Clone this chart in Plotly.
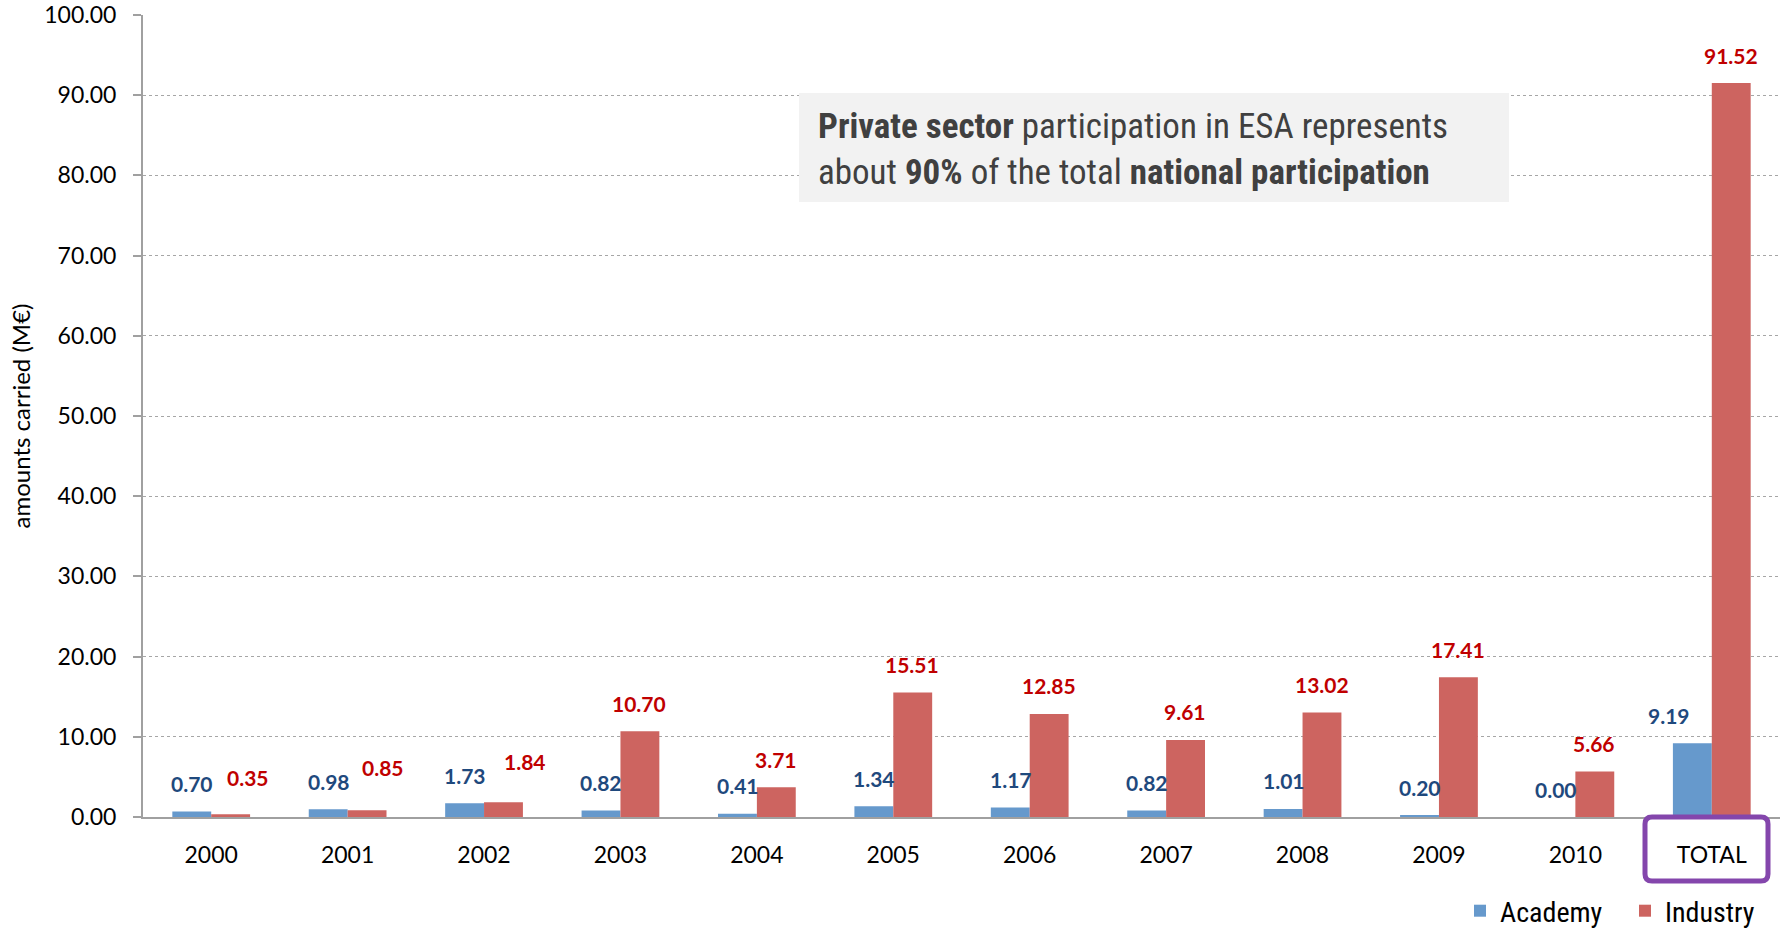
import plotly.graph_objects as go

categories = ["2000", "2001", "2002", "2003", "2004", "2005", "2006", "2007", "2008", "2009", "2010", "TOTAL"]
academy = [0.70, 0.98, 1.73, 0.82, 0.41, 1.34, 1.17, 0.82, 1.01, 0.20, 0.00, 9.19]
industry = [0.35, 0.85, 1.84, 10.70, 3.71, 15.51, 12.85, 9.61, 13.02, 17.41, 5.66, 91.52]

# label nudges (px) to mimic the reference label placement
academy_dx = [0, 0, 0, 0, 0, 0, 0, 0, 0, 0, 0, -24]
academy_dy = [0] * 12
industry_dx = [18, 16, 22, 0, 0, 0, 0, 0, 0, 0, 0, 0]
industry_dy = [9, 15, 13, 0, 0, 0, 0, 0, 0, 0, 0, 0]

BLUE = "#6699CC"
RED = "#CD6460"
NUM_FONT = "Lato, 'Open Sans', sans-serif"
NARROW = "'Liberation Sans Narrow', 'Arial Narrow', 'Roboto Condensed', 'Liberation Sans', sans-serif"

# plot-area geometry in pixels
L, R, T, B = 143, 1780, 15, 817
PW, PH = R - L, B - T


def px(xp):
    return (xp - L) / PW


def py(yp):
    return (B - yp) / PH


fig = go.Figure()
fig.add_trace(go.Bar(name="Academy", x=categories, y=academy, marker_color=BLUE,
                     marker_line_width=0, legend="legend"))
fig.add_trace(go.Bar(name="Industry", x=categories, y=industry, marker_color=RED,
                     marker_line_width=0, legend="legend2"))

annotations = []
for i, c in enumerate(categories):
    # x given as category index (numeric-looking category names would be read as indices)
    annotations.append(dict(x=i, y=academy[i], xref="x", yref="y",
                            text=f"{academy[i]:.2f}", showarrow=False,
                            xshift=-19 + academy_dx[i], yshift=28 + academy_dy[i],
                            font=dict(family=NUM_FONT, size=21, color="#1F497D", weight="bold")))
    annotations.append(dict(x=i, y=industry[i], xref="x", yref="y",
                            text=f"{industry[i]:.2f}", showarrow=False,
                            xshift=19 + industry_dx[i], yshift=28 + industry_dy[i],
                            font=dict(family=NUM_FONT, size=21, color="#C00000", weight="bold")))

annotations.append(dict(
    x=px(816), y=py(149), xref="paper", yref="paper",
    xanchor="left", yanchor="middle",
    align="left", showarrow=False,
    text="<b>Private sector</b> participation in ESA represents<br>about <b>90%</b> of the total <b>national participation</b>",
    font=dict(family=NARROW, size=35, color="#404040")))

# rounded purple frame around TOTAL label
x0, x1, y0, y1 = px(1645), px(1768), py(817), py(881)
rx, ry = 7 / PW, 7 / PH
frame_path = (f"M {x0+rx},{y0} L {x1-rx},{y0} Q {x1},{y0} {x1},{y0-ry} "
              f"L {x1},{y1+ry} Q {x1},{y1} {x1-rx},{y1} "
              f"L {x0+rx},{y1} Q {x0},{y1} {x0},{y1+ry} "
              f"L {x0},{y0-ry} Q {x0},{y0} {x0+rx},{y0} Z")

legend_style = dict(orientation="h", yanchor="middle", y=py(911), xanchor="left",
                    font=dict(family=NARROW, size=28, color="#000000"),
                    itemwidth=30, bgcolor="rgba(0,0,0,0)")

fig.update_layout(
    width=1782, height=930,
    margin=dict(l=L, r=1782 - R, t=T, b=930 - B, autoexpand=False),
    paper_bgcolor="white", plot_bgcolor="white",
    barmode="group", bargap=0.43, bargroupgap=0,
    showlegend=True,
    legend=dict(x=px(1460), **legend_style),
    legend2=dict(x=px(1625), **legend_style),
    annotations=annotations,
    shapes=[
        dict(type="rect", xref="paper", yref="paper", x0=px(799), x1=px(1509),
             y0=py(202), y1=py(93), fillcolor="#F2F2F2",
             line_width=0, layer="above"),
        dict(type="path", xref="paper", yref="paper", path=frame_path,
             line=dict(color="#8446AC", width=5), fillcolor="rgba(0,0,0,0)"),
    ],
    yaxis=dict(range=[0, 100], dtick=10, tickformat=".2f", automargin=False,
               showgrid=True, gridcolor="#A6A6A6", griddash="dot", gridwidth=1,
               showline=True, linecolor="#A0A0A0", linewidth=2,
               ticks="outside", ticklen=8, tickcolor="#A0A0A0", tickwidth=2,
               ticklabelstandoff=12,
               tickfont=dict(family=NUM_FONT, size=23, color="#000000"),
               title=dict(text="amounts carried (M€)",
                          font=dict(family=NUM_FONT, size=24, color="#000000"), standoff=7),
               zeroline=False),
    xaxis=dict(type="category", automargin=False, range=[-0.5, 11.5],
               showline=True, linecolor="#A0A0A0", linewidth=2, ticks="",
               ticklabelstandoff=16,
               tickfont=dict(family=NUM_FONT, size=23, color="#000000")),
)

fig.write_html("out.html", config={"displayModeBar": False},
               post_script="document.body.style.margin='0';document.body.style.overflow='hidden';")
